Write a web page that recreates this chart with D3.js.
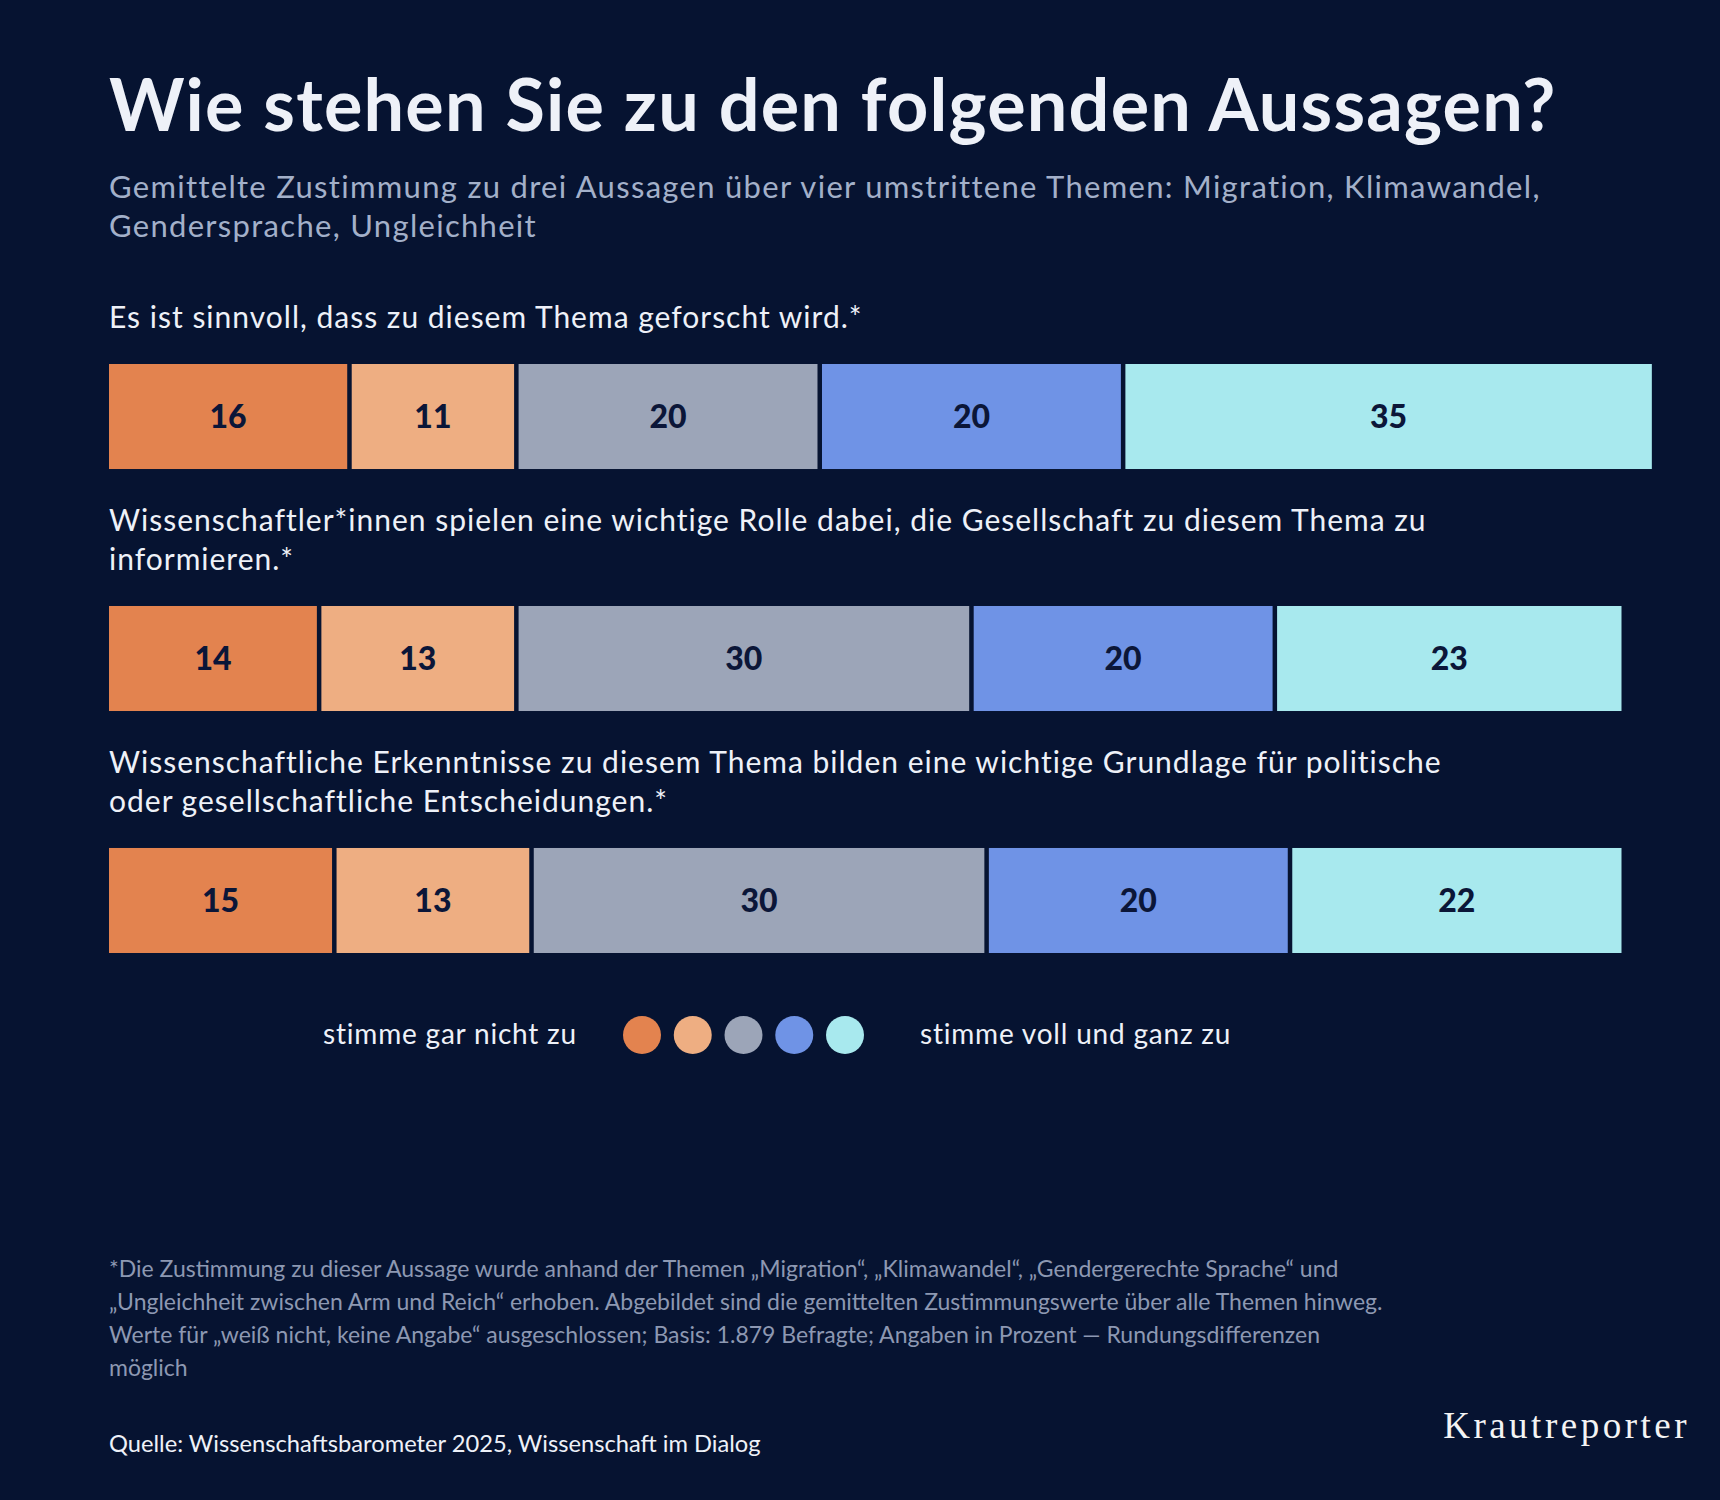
<!DOCTYPE html>
<html>
<head>
<meta charset="UTF-8">
<title>Wie stehen Sie zu den folgenden Aussagen?</title>
<script src="https://d3js.org/d3.v7.min.js"></script>
<style>
  body { margin: 0; background: #061331; }
  text { font-family: Lato, "Noto Sans", sans-serif; }
</style>
</head>
<body>
<script>

// statements, each as the lines printed above its bar
var questions = [
    ["Es ist sinnvoll, dass zu diesem Thema geforscht wird.*"],
    ["Wissenschaftler*innen spielen eine wichtige Rolle dabei, die Gesellschaft zu diesem Thema zu",
     "informieren.*"],
    ["Wissenschaftliche Erkenntnisse zu diesem Thema bilden eine wichtige Grundlage für politische",
     "oder gesellschaftliche Entscheidungen.*"]
];

// answer scale, from "gar nicht" to "voll und ganz"
var levels = ["1", "2", "3", "4", "5"];
var colors = ["#e3834f", "#eeae82", "#9ca5b8", "#6f93e6", "#a8e9ee"];

// percentages per statement
var values = [
    [16, 11, 20, 20, 35],
    [14, 13, 30, 20, 23],
    [15, 13, 30, 20, 22]
];

var legendLeft = "stimme gar nicht zu";
var legendRight = "stimme voll und ganz zu";

var title = "Wie stehen Sie zu den folgenden Aussagen?";
var subtitle = [
    "Gemittelte Zustimmung zu drei Aussagen über vier umstrittene Themen: Migration, Klimawandel,",
    "Gendersprache, Ungleichheit"
];
var footnote = [
    "*Die Zustimmung zu dieser Aussage wurde anhand der Themen „Migration“, „Klimawandel“, „Gendergerechte Sprache“ und",
    "„Ungleichheit zwischen Arm und Reich“ erhoben. Abgebildet sind die gemittelten Zustimmungswerte über alle Themen hinweg.",
    "Werte für „weiß nicht, keine Angabe“ ausgeschlossen; Basis: 1.879 Befragte; Angaben in Prozent — Rundungsdifferenzen",
    "möglich"
];
var source = "Quelle: Wissenschaftsbarometer 2025, Wissenschaft im Dialog";
var brand = "Krautreporter";

var width = 1720, height = 1500;
var left = 109;
var gap = 4.5;

var svg = d3.select("body").append("svg")
        .attr("width", width)
        .attr("height", height);

svg.append("rect")
        .attr("width", width)
        .attr("height", height)
        .attr("fill", "#061331");

// header
svg.append("text")
        .attr("x", left)
        .attr("y", 131)
        .attr("fill", "#eef1f8")
        .style("font-size", "72px")
        .style("font-weight", 700)
        .style("letter-spacing", "1.2px")
        .text(title);

svg.append("g").selectAll("text")
        .data(subtitle)
        .enter().append("text")
        .attr("x", left)
        .attr("y", function (d, i) { return 198 + i * 39; })
        .attr("fill", "#a3b0c9")
        .style("font-size", "31px")
        .style("letter-spacing", "1.3px")
        .text(function (d) { return d; });

// scales
var x = d3.scaleLinear()
        .domain([0, 100])
        .range([left, 1626]);

var y = d3.scaleBand()
        .domain(d3.range(questions.length))
        .range([364, 953])
        .paddingInner(0.566)
        .paddingOuter(0);

var color = d3.scaleOrdinal()
        .domain(levels)
        .range(colors);

var rows = values.map(function (v) {
    var obj = {};
    levels.forEach(function (k, j) { obj[k] = v[j]; });
    return obj;
});

var series = d3.stack().keys(levels)(rows);

// question labels above each bar
var qg = svg.append("g").selectAll("g")
        .data(questions)
        .enter().append("g");

qg.selectAll("text")
        .data(function (d, i) {
            return d.map(function (line, k) {
                return {line: line, row: i, k: k, n: d.length};
            });
        })
        .enter().append("text")
        .attr("x", left)
        .attr("y", function (d) {
            return y(d.row) - 36 - (d.n - 1 - d.k) * 38.5;
        })
        .attr("fill", "#eef1f8")
        .style("font-size", "30px")
        .style("letter-spacing", "1px")
        .text(function (d) { return d.line; });

// bars
var layer = svg.append("g").selectAll("g")
        .data(series)
        .enter().append("g")
        .attr("fill", function (d) { return color(d.key); });

layer.selectAll("rect")
        .data(function (d) { return d; })
        .enter().append("rect")
        .attr("x", function (d) { return x(d[0]); })
        .attr("y", function (d, i) { return y(i); })
        .attr("width", function (d) { return x(d[1]) - x(d[0]) - gap; })
        .attr("height", y.bandwidth());

layer.selectAll("text")
        .data(function (d) { return d; })
        .enter().append("text")
        .attr("x", function (d) { return (x(d[0]) + x(d[1]) - gap) / 2; })
        .attr("y", function (d, i) { return y(i) + y.bandwidth() / 2; })
        .attr("dy", "0.36em")
        .attr("text-anchor", "middle")
        .attr("fill", "#0b1638")
        .style("font-size", "32px")
        .style("font-weight", 900)
        .text(function (d) { return d[1] - d[0]; });

// legend
var lx = d3.scalePoint()
        .domain(levels)
        .range([642, 845]);

var legend = svg.append("g");

legend.selectAll("circle")
        .data(levels)
        .enter().append("circle")
        .attr("cx", function (d) { return lx(d); })
        .attr("cy", 1035)
        .attr("r", 19)
        .attr("fill", function (d) { return color(d); });

legend.append("text")
        .attr("x", 577)
        .attr("y", 1044)
        .attr("text-anchor", "end")
        .attr("fill", "#eef1f8")
        .style("font-size", "28px")
        .style("letter-spacing", "0.8px")
        .text(legendLeft);

legend.append("text")
        .attr("x", 920)
        .attr("y", 1044)
        .attr("fill", "#eef1f8")
        .style("font-size", "28px")
        .style("letter-spacing", "0.8px")
        .text(legendRight);

// footer
svg.append("g").selectAll("text")
        .data(footnote)
        .enter().append("text")
        .attr("x", left)
        .attr("y", function (d, i) { return 1277 + i * 33; })
        .attr("fill", "#8d98b2")
        .style("font-size", "23px")
        .text(function (d) { return d; });

svg.append("text")
        .attr("x", left)
        .attr("y", 1452)
        .attr("fill", "#eef1f8")
        .style("font-size", "23.7px")
        .text(source);

svg.append("text")
        .attr("x", 1690)
        .attr("y", 1438)
        .attr("text-anchor", "end")
        .attr("fill", "#f4f4f4")
        .style("font-family", "'Liberation Serif', 'DejaVu Serif', serif")
        .style("font-size", "37px")
        .style("letter-spacing", "3.5px")
        .text(brand);

</script>
</body>
</html>
